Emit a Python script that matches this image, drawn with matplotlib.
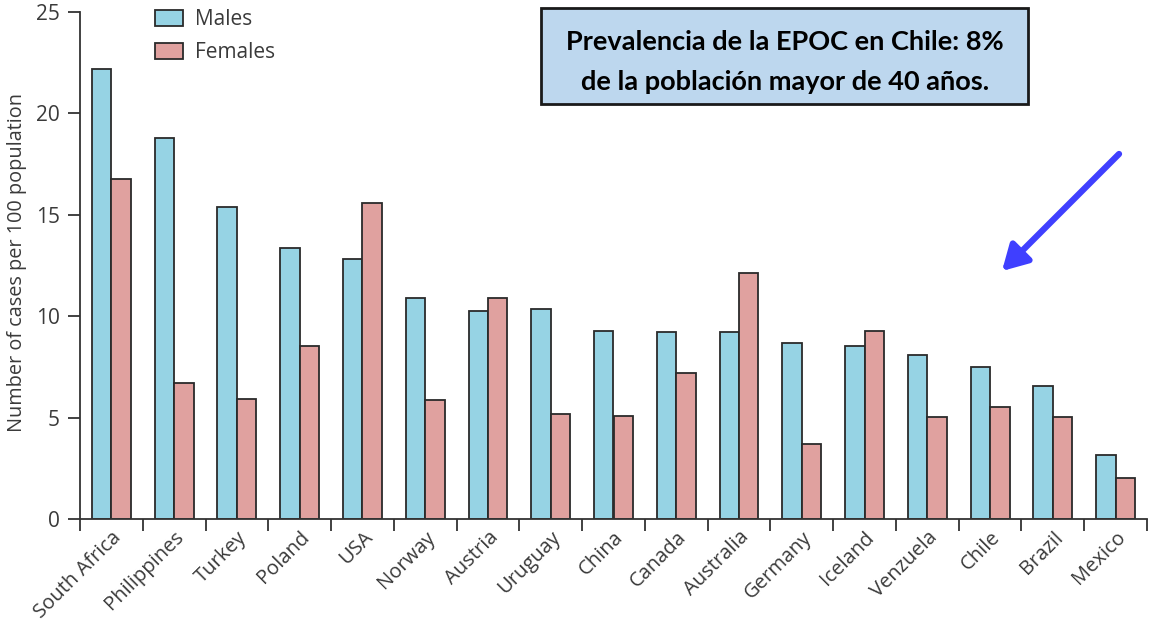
import matplotlib
matplotlib.use("Agg")
import matplotlib.pyplot as plt
from matplotlib.patches import FancyArrowPatch, Rectangle
import numpy as np

countries = ["South Africa", "Philippines", "Turkey", "Poland", "USA", "Norway",
             "Austria", "Uruguay", "China", "Canada", "Australia", "Germany",
             "Iceland", "Venzuela", "Chile", "Brazil", "Mexico"]
males = [22.2, 18.8, 15.4, 13.35, 12.8, 10.9, 10.27, 10.35, 9.28, 9.22, 9.22,
         8.66, 8.52, 8.1, 7.48, 6.56, 3.16]
females = [16.77, 6.72, 5.94, 8.53, 15.57, 5.87, 10.88, 5.18, 5.1, 7.2, 12.15,
           3.7, 9.29, 5.03, 5.52, 5.03, 2.04]
yticks = [0, 5, 10, 15, 20, 25]
ylabel = "Number of cases per 100 population"
legend_labels = ["Males", "Females"]
note = "Prevalencia de la EPOC en Chile: 8%\nde la población mayor de 40 años."

W, H = 1149, 621
fig = plt.figure(figsize=(W / 100, H / 100), dpi=100)
ax = fig.add_axes([80 / W, 1 - 519 / H, 1067 / W, 507 / H])

txt = "#3a3a3a"
fam = ["Open Sans", "DejaVu Sans"]
male_c = "#96D3E4"
female_c = "#E0A19F"
edge = "#2a2a2a"
bw = 0.31
x = np.arange(len(countries))
ax.bar(x - bw, males, width=bw, align="edge", color=male_c, edgecolor=edge,
       linewidth=1.3, label=legend_labels[0], zorder=2)
ax.bar(x, females, width=bw, align="edge", color=female_c, edgecolor=edge,
       linewidth=1.3, label=legend_labels[1], zorder=2)

ax.set_xlim(-0.5, len(countries) - 0.5)
ax.set_ylim(0, 25)
ax.set_yticks(yticks)
ax.set_yticklabels([str(v) for v in yticks], fontsize=15, color=txt, family=fam)
ax.set_xticks(x)
ax.set_xticklabels(countries, rotation=45, ha="right", va="top",
                   rotation_mode="anchor", fontsize=14.5, color=txt, family=fam)
ax.set_xticks(np.arange(len(countries) + 1) - 0.5, minor=True)
ax.tick_params(axis="x", which="major", length=0, pad=6)
ax.tick_params(axis="x", which="minor", length=8.5, width=1.3, color="#333333",
               direction="out")
ax.tick_params(axis="y", length=8.5, width=1.3, color="#333333", pad=6)

for s in ["top", "right"]:
    ax.spines[s].set_visible(False)
for s in ["left", "bottom"]:
    ax.spines[s].set_color("#333333")
    ax.spines[s].set_linewidth(1.3)

ax.set_ylabel(ylabel, fontsize=14.3, color=txt, family=fam)
ax.yaxis.set_label_coords(-53 / 1067, 1 - (262 - 12) / 507)

leg = ax.legend(loc="upper left", bbox_to_anchor=(155 / W, 1 - 9 / H),
                bbox_transform=fig.transFigure, frameon=False,
                prop={"family": fam, "size": 15}, handlelength=1.35,
                handleheight=0.8, handletextpad=0.55, labelspacing=0.6,
                borderaxespad=0, borderpad=0)
for t in leg.get_texts():
    t.set_color(txt)

# annotation box
fig.patches.append(Rectangle((541 / W, 1 - 104 / H), 487 / W, 96 / H,
                             transform=fig.transFigure, facecolor="#BDD7EE",
                             edgecolor="#1a1a1a", linewidth=2, zorder=5))
fig.text(785 / W, 1 - 62 / H, note, ha="center", va="center", fontsize=19.5,
         fontweight="bold", family=["Lato", "DejaVu Sans"], color="black",
         linespacing=1.75, zorder=6)

arrow = FancyArrowPatch((1121 / W, 1 - 152 / H), (1000 / W, 1 - 273 / H),
                        transform=fig.transFigure,
                        arrowstyle="-|>,head_length=15,head_width=8.5",
                        mutation_scale=1, color="#3F3FFF", linewidth=4.5, zorder=6)
fig.patches.append(arrow)

fig.savefig("out.png", dpi=100)
